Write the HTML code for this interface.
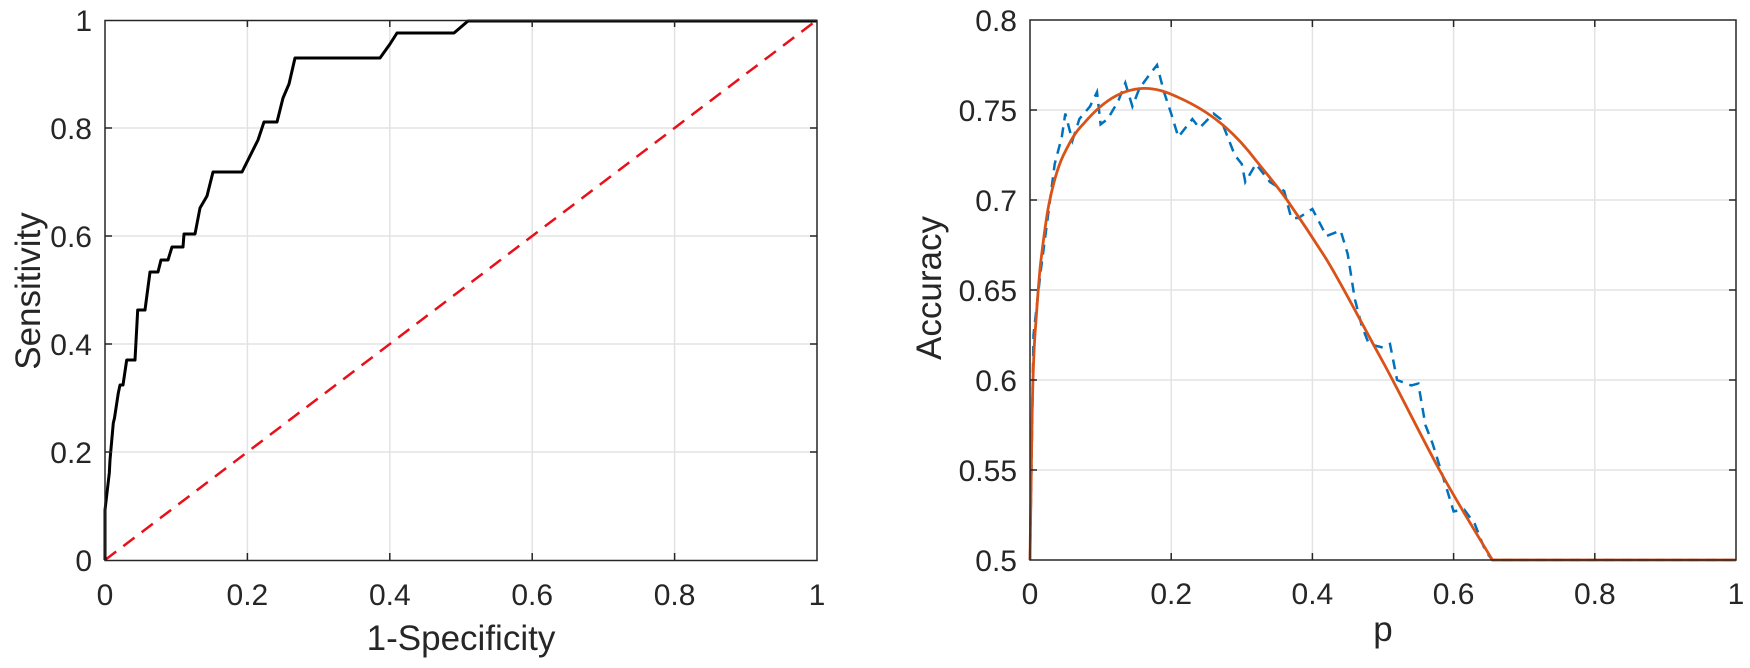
<!DOCTYPE html>
<html><head><meta charset="utf-8"><style>
html,body{margin:0;padding:0;background:#fff;}
text{font-family:"Liberation Sans",Arial,sans-serif;fill:#262626;}
</style></head><body>
<svg width="1750" height="663" viewBox="0 0 1750 663" xmlns="http://www.w3.org/2000/svg">
<rect width="1750" height="663" fill="#fff"/>
<!-- LEFT PLOT -->
<g stroke="#e3e3e3" stroke-width="1.5">
<line x1="247.4" y1="20" x2="247.4" y2="560"/><line x1="389.8" y1="20" x2="389.8" y2="560"/>
<line x1="532.2" y1="20" x2="532.2" y2="560"/><line x1="674.6" y1="20" x2="674.6" y2="560"/>
<line x1="105" y1="452" x2="817" y2="452"/><line x1="105" y1="344" x2="817" y2="344"/>
<line x1="105" y1="236" x2="817" y2="236"/><line x1="105" y1="128" x2="817" y2="128"/>
</g>
<line x1="105" y1="560" x2="817" y2="20" stroke="#e8101a" stroke-width="2.5" stroke-dasharray="14,9"/>
<polyline fill="none" stroke="#000" stroke-width="3" stroke-linejoin="round" points="105,560 105,510 109.3,473 110,460 113.3,423 114.5,418 118.3,393 120,385 123,385 126.7,360 135,360 137.7,310 145,310 150,272 158,272 161,260 168,260 172,247 183,247 184,234 195,234 200,208 207,196 213,172 242,172 258,140 264,122 277,122 283,98 289,84 295,58 380,58 390,44 397,33 454,33 468,21 817,21"/>
<rect x="105" y="20.5" width="712" height="540" fill="none" stroke="#262626" stroke-width="1.5"/>
<g stroke="#262626" stroke-width="1.5">
<line x1="247.4" y1="560" x2="247.4" y2="553"/><line x1="389.8" y1="560" x2="389.8" y2="553"/><line x1="532.2" y1="560" x2="532.2" y2="553"/><line x1="674.6" y1="560" x2="674.6" y2="553"/>
<line x1="247.4" y1="20" x2="247.4" y2="27"/><line x1="389.8" y1="20" x2="389.8" y2="27"/><line x1="532.2" y1="20" x2="532.2" y2="27"/><line x1="674.6" y1="20" x2="674.6" y2="27"/>
<line x1="105" y1="452" x2="112" y2="452"/><line x1="105" y1="344" x2="112" y2="344"/><line x1="105" y1="236" x2="112" y2="236"/><line x1="105" y1="128" x2="112" y2="128"/>
<line x1="817" y1="452" x2="810" y2="452"/><line x1="817" y1="344" x2="810" y2="344"/><line x1="817" y1="236" x2="810" y2="236"/><line x1="817" y1="128" x2="810" y2="128"/>
</g>
<g font-size="30" text-anchor="end">
<text x="92" y="571">0</text><text x="92" y="463">0.2</text><text x="92" y="355">0.4</text><text x="92" y="247">0.6</text><text x="92" y="139">0.8</text><text x="92" y="31">1</text>
</g>
<g font-size="30" text-anchor="middle">
<text x="105" y="605">0</text><text x="247.4" y="605">0.2</text><text x="389.8" y="605">0.4</text><text x="532.2" y="605">0.6</text><text x="674.6" y="605">0.8</text><text x="817" y="605">1</text>
</g>
<text x="461" y="650" font-size="35" text-anchor="middle">1-Specificity</text>
<text transform="translate(40,291) rotate(-90)" font-size="35" text-anchor="middle">Sensitivity</text>

<!-- RIGHT PLOT -->
<g stroke="#e3e3e3" stroke-width="1.5">
<line x1="1171.2" y1="20" x2="1171.2" y2="560"/><line x1="1312.4" y1="20" x2="1312.4" y2="560"/>
<line x1="1453.6" y1="20" x2="1453.6" y2="560"/><line x1="1594.8" y1="20" x2="1594.8" y2="560"/>
<line x1="1030" y1="470" x2="1736" y2="470"/><line x1="1030" y1="380" x2="1736" y2="380"/>
<line x1="1030" y1="290" x2="1736" y2="290"/><line x1="1030" y1="200" x2="1736" y2="200"/>
<line x1="1030" y1="110" x2="1736" y2="110"/>
</g>
<polyline fill="none" stroke="#0072BD" stroke-width="2.5" stroke-dasharray="10,7" points="1030,560 1033.5,335 1040.6,272 1047.7,218 1054.7,164 1061.8,137 1065.3,113.6 1072.4,140.6 1079.4,119 1090,106.4 1097,92 1100.6,124.4 1107.7,119 1118.3,101 1125.3,83 1132.4,106.4 1139.4,88.4 1150,74 1157,65 1164,92 1171.2,113.6 1178.3,137 1192.4,119 1199.4,128 1213.6,113.6 1220.6,119 1227.7,137 1234.7,155 1241.8,164 1245.3,182 1255.9,164 1270,182 1284.2,191 1291.2,218 1298.3,218 1312.4,209 1326.5,236 1340.6,230.6 1347.7,254 1354.8,299 1361.8,326 1368.9,344 1383,347.6 1390,344 1397.1,380 1411.2,385.4 1418.3,383.6 1425.4,425 1432.4,443 1446.5,488 1453.6,511.4 1464.2,509.6 1474.8,524 1485.4,551 1492.4,560 1736,560"/>
<path fill="none" stroke="#D95319" stroke-width="2.8" stroke-linejoin="round" d="M1030,560 C1031,500 1031.5,450 1032.1,416 C1033,370 1034,345 1035.6,326 C1037.5,300 1039,275 1041.3,257.6 C1044,235 1046.5,215 1049.8,200 C1054,180 1059,163 1065.3,151.4 C1071,140 1076,131 1083,124.4 C1091,115 1099,107 1107.7,101 C1119,93 1130,89 1143,88.4 C1156,88 1167,92 1178.3,97.4 C1193,104 1207,112 1219.9,122.6 C1233,133 1245,146 1255.9,160.4 C1267,174 1277,186 1287,200 C1301,220 1313,238 1326.5,259.4 C1345,290 1363,326 1383,362 C1402,397 1420,434 1439.5,470 C1457,502 1475,531 1492.4,560 L1736,560"/>
<rect x="1030" y="20" width="706" height="540" fill="none" stroke="#262626" stroke-width="1.5"/>
<g stroke="#262626" stroke-width="1.5">
<line x1="1171.2" y1="560" x2="1171.2" y2="553"/><line x1="1312.4" y1="560" x2="1312.4" y2="553"/><line x1="1453.6" y1="560" x2="1453.6" y2="553"/><line x1="1594.8" y1="560" x2="1594.8" y2="553"/>
<line x1="1171.2" y1="20" x2="1171.2" y2="27"/><line x1="1312.4" y1="20" x2="1312.4" y2="27"/><line x1="1453.6" y1="20" x2="1453.6" y2="27"/><line x1="1594.8" y1="20" x2="1594.8" y2="27"/>
<line x1="1030" y1="470" x2="1037" y2="470"/><line x1="1030" y1="380" x2="1037" y2="380"/><line x1="1030" y1="290" x2="1037" y2="290"/><line x1="1030" y1="200" x2="1037" y2="200"/><line x1="1030" y1="110" x2="1037" y2="110"/>
<line x1="1736" y1="470" x2="1729" y2="470"/><line x1="1736" y1="380" x2="1729" y2="380"/><line x1="1736" y1="290" x2="1729" y2="290"/><line x1="1736" y1="200" x2="1729" y2="200"/><line x1="1736" y1="110" x2="1729" y2="110"/>
</g>
<g font-size="30" text-anchor="end">
<text x="1017" y="571">0.5</text><text x="1017" y="481">0.55</text><text x="1017" y="391">0.6</text><text x="1017" y="301">0.65</text><text x="1017" y="211">0.7</text><text x="1017" y="121">0.75</text><text x="1017" y="31">0.8</text>
</g>
<g font-size="30" text-anchor="middle">
<text x="1030" y="604">0</text><text x="1171.2" y="604">0.2</text><text x="1312.4" y="604">0.4</text><text x="1453.6" y="604">0.6</text><text x="1594.8" y="604">0.8</text><text x="1736" y="604">1</text>
</g>
<text x="1383" y="641" font-size="35" text-anchor="middle">p</text>
<text transform="translate(941,288) rotate(-90)" font-size="35" text-anchor="middle">Accuracy</text>
</svg>
</body></html>
